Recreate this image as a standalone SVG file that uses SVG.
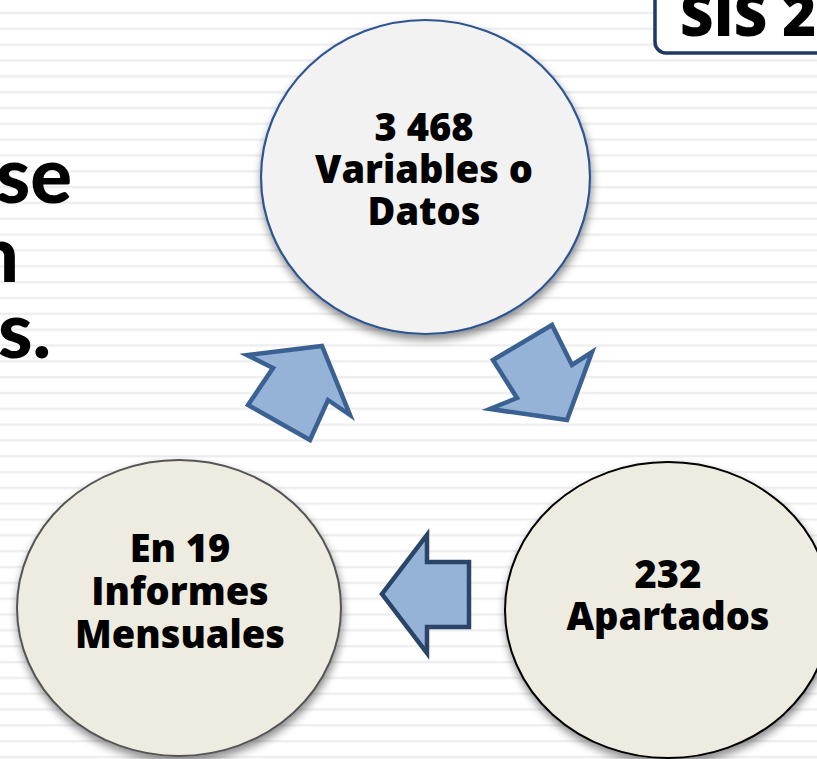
<svg xmlns="http://www.w3.org/2000/svg" width="817" height="759" viewBox="0 0 817 759">
  <defs>
    <pattern id="stripes" x="0" y="0" width="817" height="15.83" patternUnits="userSpaceOnUse">
      <rect x="0" y="11.8" width="817" height="2.4" fill="#eeeeee"/>
    </pattern>
    <filter id="shadow" x="-20%" y="-20%" width="140%" height="150%">
      <feDropShadow dx="1" dy="5" stdDeviation="4" flood-color="#000" flood-opacity="0.45"/>
    </filter>
    <style>
      .node-text { font-family: "Open Sans", "Noto Sans", sans-serif; font-weight: 800; font-size: 38px; fill: #000; text-anchor: middle; }
      .big { font-family: Lato, "Open Sans", sans-serif; font-weight: 900; font-size: 78px; fill: #000; text-anchor: end; }
      .arrow { fill: #95b3d7; stroke: #3a6192; stroke-width: 4.5; stroke-linejoin: miter; }
    </style>
  </defs>

  <rect x="0" y="0" width="817" height="759" fill="#ffffff"/>
  <rect x="0" y="0" width="817" height="759" fill="url(#stripes)"/>

  <g id="title-left">
    <text class="big" x="72" y="203">se</text>
    <text class="big" x="19" y="282">n</text>
    <text class="big" x="51" y="358">s.</text>
  </g>

  <g id="sis-box">
    <rect x="655" y="-12" width="200" height="65" rx="11" ry="11" fill="#ffffff" stroke="#1f3864" stroke-width="3.5"/>
    <text x="680" y="36" font-family="Open Sans, Noto Sans, sans-serif" font-weight="800" font-size="58" fill="#000">SIS 2</text>
  </g>

  <g id="node-variables">
    <ellipse cx="425.5" cy="177" rx="164.5" ry="157" fill="#f2f2f2" stroke="#2e5590" stroke-width="2.2" filter="url(#shadow)"/>
    <text class="node-text" x="424" y="141">3 468</text>
    <text class="node-text" x="424" y="183">Variables o</text>
    <text class="node-text" x="424" y="225">Datos</text>
  </g>

  <g id="node-informes">
    <ellipse cx="179" cy="608" rx="162" ry="148" fill="#eeece1" stroke="#555555" stroke-width="2" filter="url(#shadow)"/>
    <text class="node-text" x="180" y="562">En 19</text>
    <text class="node-text" x="180" y="605">Informes</text>
    <text class="node-text" x="180" y="648">Mensuales</text>
  </g>

  <g id="node-apartados">
    <ellipse cx="668" cy="610" rx="163" ry="148" fill="#eeece1" stroke="#000000" stroke-width="2" filter="url(#shadow)"/>
    <text class="node-text" x="668" y="588">232</text>
    <text class="node-text" x="668" y="630">Apartados</text>
  </g>

  <g id="connectors">
    <polygon class="arrow" points="493,360 552,325 572,365 592,352 567,420 490,409 517,398"/>
    <polygon class="arrow" points="427,562 469,562 469,627 427,627 427,653 382,594 427,535" style="stroke:#2b4569"/>
    <polygon class="arrow" points="310,440 248,405 273,368 247,355 322,346 350,415 328,400"/>
  </g>
</svg>
